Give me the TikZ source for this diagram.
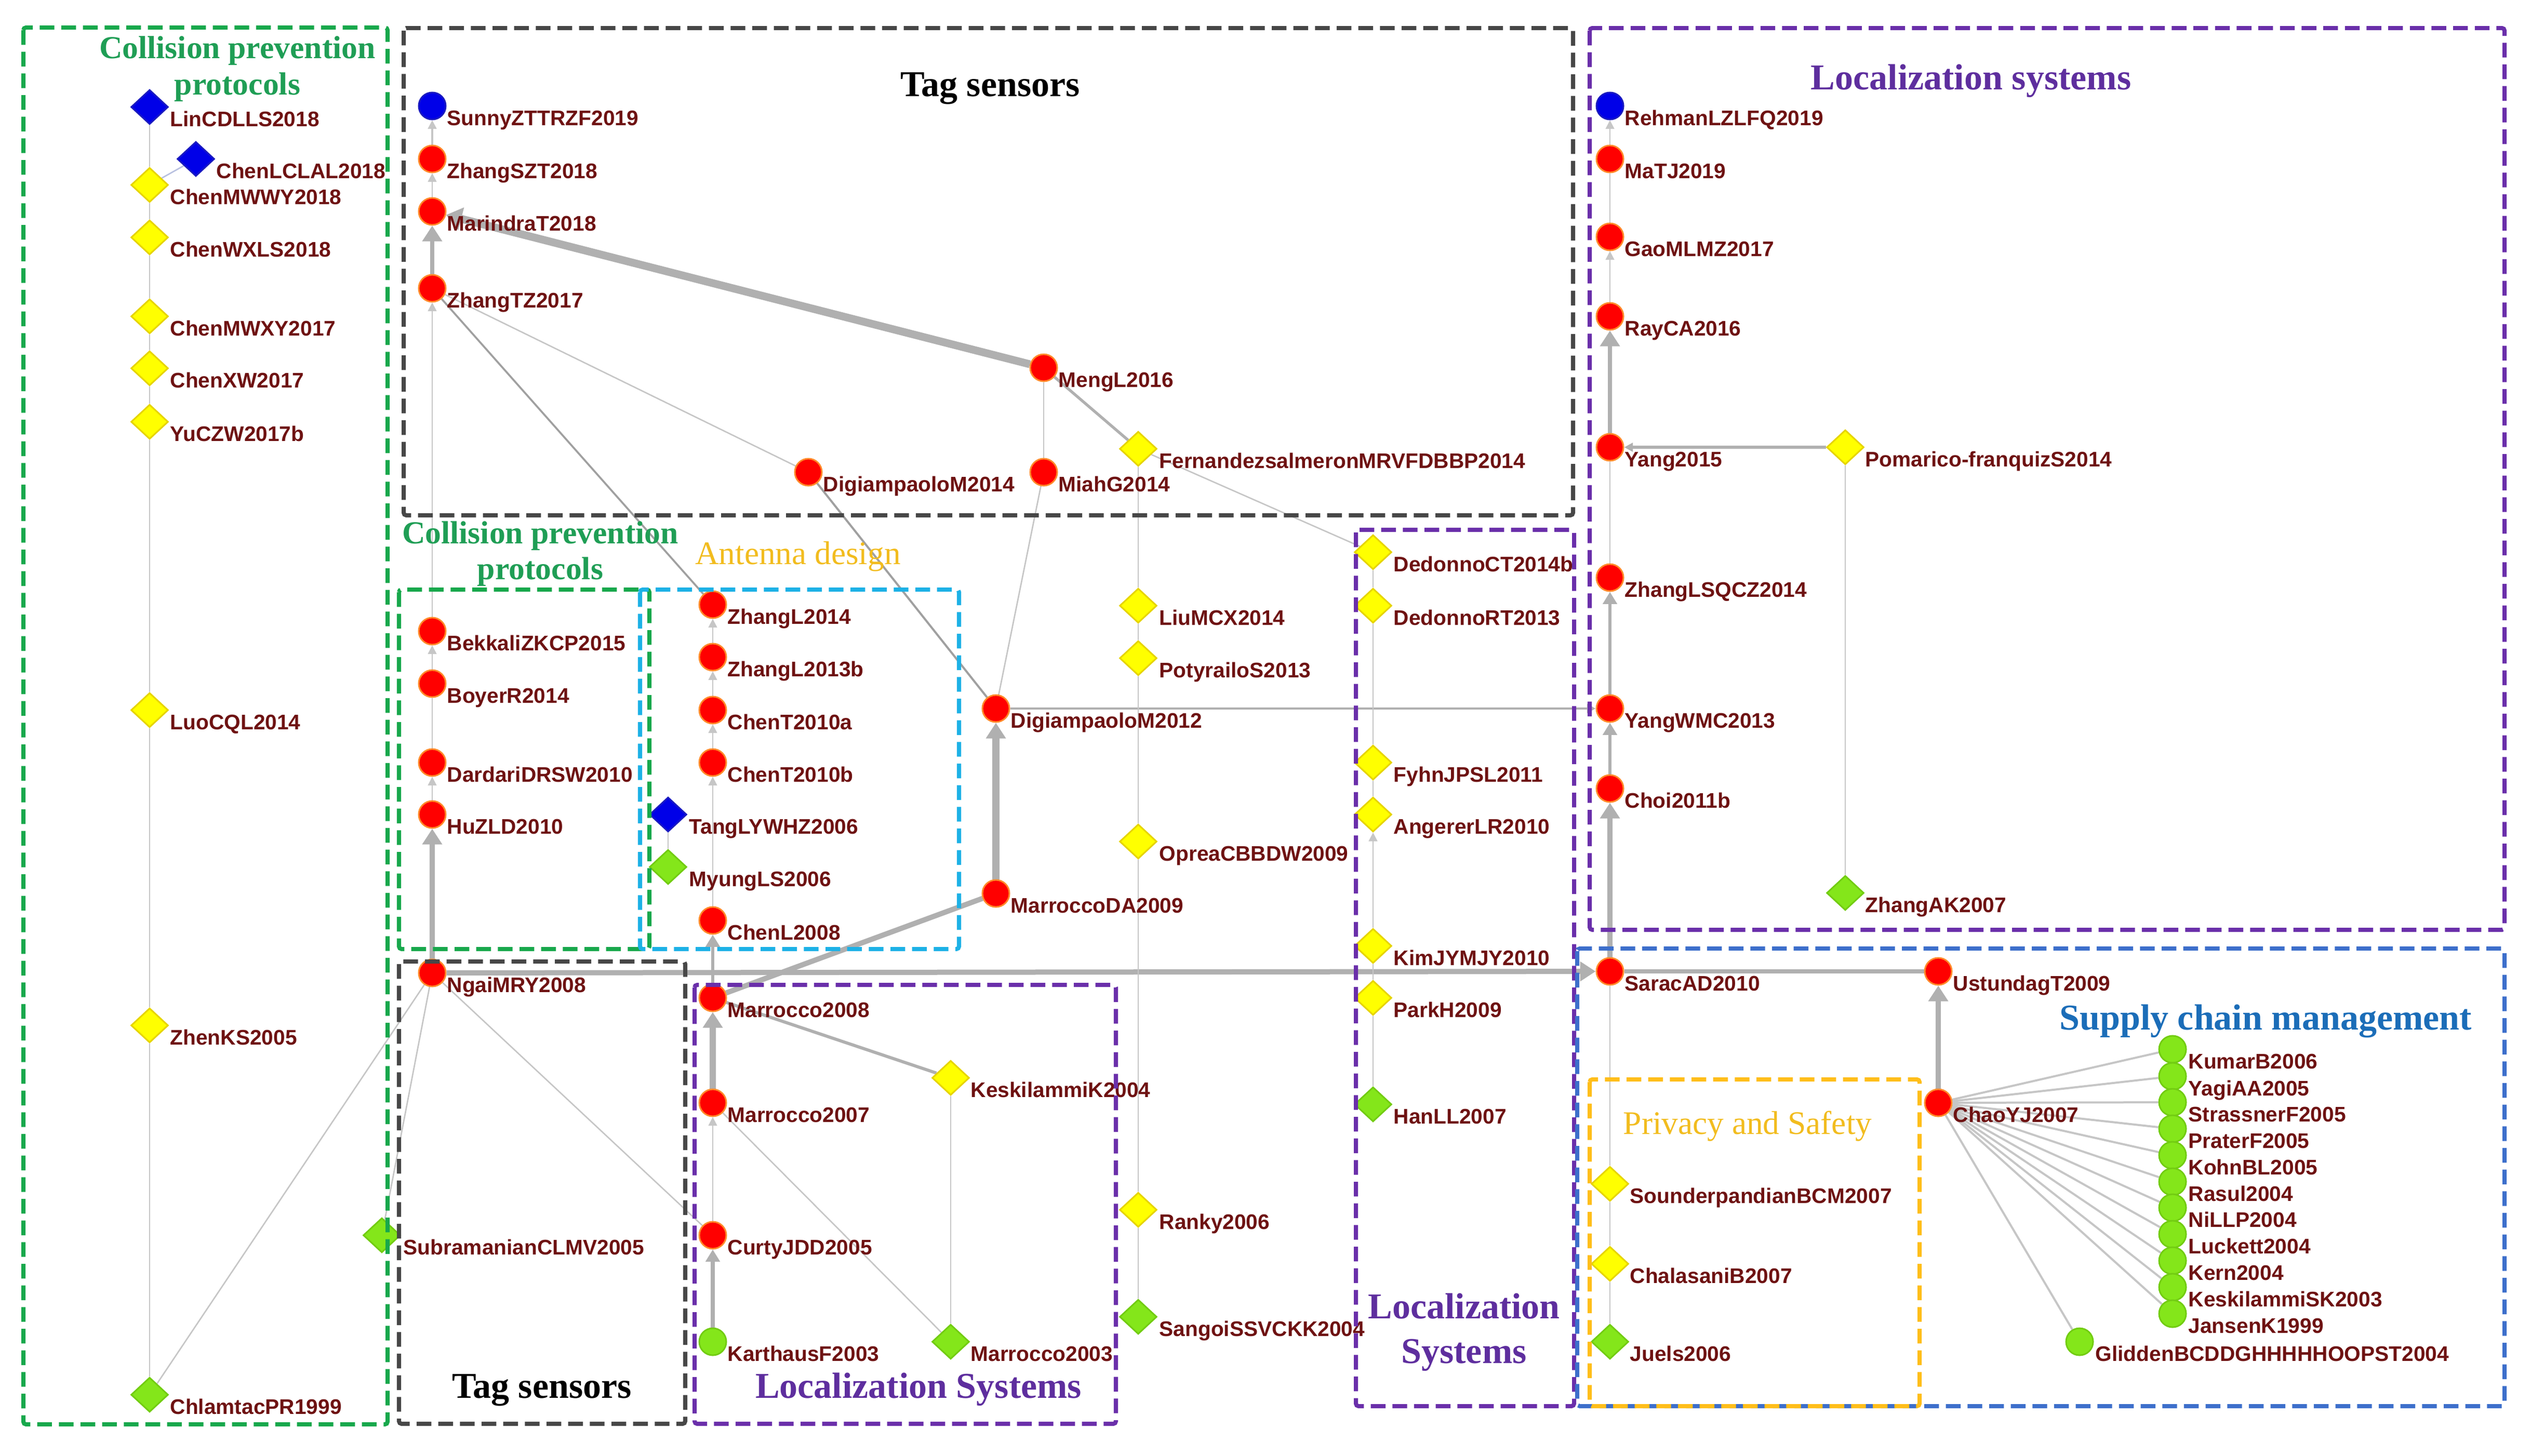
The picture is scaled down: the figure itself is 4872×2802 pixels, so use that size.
\documentclass[tikz,border=0pt]{standalone}
\usepackage{fontspec}
\setmainfont{Liberation Serif}
\newfontfamily\lblfam{Liberation Sans}
\usetikzlibrary{shapes.geometric,arrows.meta,calc}
\pgfdeclarelayer{bg}\pgfdeclarelayer{fg}
\pgfsetlayers{bg,main,fg}
\definecolor{nred}{HTML}{FF0000}
\definecolor{nredo}{HTML}{FF8A2A}
\definecolor{nblue}{HTML}{0000E8}
\definecolor{nblueo}{HTML}{1A1AC0}
\definecolor{nyellow}{HTML}{FFFF00}
\definecolor{nyellowo}{HTML}{E6D400}
\definecolor{ngreen}{HTML}{84E61A}
\definecolor{ngreeno}{HTML}{72CC12}
\definecolor{lblc}{HTML}{6E1212}
\definecolor{ethin}{HTML}{C6C6C6}
\definecolor{emed}{HTML}{B0B0B0}
\definecolor{edark}{HTML}{A0A0A0}
\definecolor{ebl}{HTML}{B8C0E0}
\definecolor{cgreen}{HTML}{18A84C}
\definecolor{cgray}{HTML}{474747}
\definecolor{cpurple}{HTML}{6A2FAA}
\definecolor{ccyan}{HTML}{1DB1E6}
\definecolor{cblue}{HTML}{3D6FCB}
\definecolor{cgold}{HTML}{FFBE1A}
\definecolor{tgreen}{HTML}{1F9E55}
\definecolor{tpurple}{HTML}{5E2E9E}
\definecolor{tgold}{HTML}{F2BC1E}
\definecolor{tblue}{HTML}{1B6DB8}
\newcommand{\mkn}[5]{\node[#1] (#2) at (#3) {}; \node[lbl] (#2-l) at ($(#2)+(#4,37)$) {#5};}
\begin{document}
\begin{tikzpicture}[x=0.3pt,y=-0.3pt,
  rc/.style={circle,fill=nred,draw=nredo,line width=0.9pt,minimum size=15.6pt,inner sep=0pt},
  bc/.style={rc,fill=nblue,draw=nblueo},
  gc/.style={rc,fill=ngreen,draw=ngreeno},
  yd/.style={diamond,fill=nyellow,draw=nyellowo,line width=0.9pt,minimum width=21.5pt,minimum height=20pt,inner sep=0pt},
  bd/.style={yd,fill=nblue,draw=nblueo},
  gd/.style={yd,fill=ngreen,draw=ngreeno},
  lbl/.style={font=\lblfam\bfseries\fontsize{12.2}{13}\selectfont,text=lblc,inner sep=0pt,anchor=base west},
  ln/.style={draw=ethin,line width=#1}, ln/.default=0.8pt,
  lm/.style={draw=emed,line width=#1}, lm/.default=1.6pt,
  sa/.style={-{Triangle[length=5pt,width=5pt]}},
  ma/.style={-{Triangle[length=7pt,width=8pt]}},
  la/.style={-{Triangle[length=9pt,width=11pt]}},
  box/.style={line width=2.4pt,dash pattern=on 8.5pt off 4pt,rounded corners=1.5pt},
  ttl/.style={font=\bfseries\fontsize{18.5}{20}\selectfont,inner sep=0pt,anchor=base},
  ttlL/.style={font=\bfseries\fontsize{21}{22}\selectfont,inner sep=0pt,anchor=base},
  ttlR/.style={font=\fontsize{19}{20}\selectfont,inner sep=0pt,anchor=base}]
\useasboundingbox (0,0) rectangle (4872,2802);
\begin{pgfonlayer}{bg}
\fill[white] (0,0) rectangle (4872,2802);
\end{pgfonlayer}
% left column
\mkn{bd}{lin}{288,206}{39}{LinCDLLS2018}
\mkn{bd}{chenlclal}{377,306}{39}{ChenLCLAL2018}
\mkn{yd}{chenmwwy}{288,356}{39}{ChenMWWY2018}
\mkn{yd}{chenwxls}{288,457}{39}{ChenWXLS2018}
\mkn{yd}{chenmwxy}{288,609}{39}{ChenMWXY2017}
\mkn{yd}{chenxw}{288,709}{39}{ChenXW2017}
\mkn{yd}{yuczw}{288,812}{39}{YuCZW2017b}
\mkn{yd}{luocql}{288,1367}{39}{LuoCQL2014}
\mkn{yd}{zhenks}{288,1974}{39}{ZhenKS2005}
\mkn{gd}{chlamtac}{288,2685}{39}{ChlamtacPR1999}
% column 832
\mkn{bc}{sunny}{832,204}{28}{SunnyZTTRZF2019}
\mkn{rc}{zhangszt}{832,306}{28}{ZhangSZT2018}
\mkn{rc}{marindra}{832,407}{28}{MarindraT2018}
\mkn{rc}{zhangtz}{832,555}{28}{ZhangTZ2017}
\mkn{rc}{bekkali}{832,1215}{28}{BekkaliZKCP2015}
\mkn{rc}{boyer}{832,1316}{28}{BoyerR2014}
\mkn{rc}{dardari}{832,1468}{28}{DardariDRSW2010}
\mkn{rc}{huzld}{832,1568}{28}{HuZLD2010}
\mkn{rc}{ngai}{832,1873}{28}{NgaiMRY2008}
\mkn{gd}{subra}{735,2378}{41}{SubramanianCLMV2005}
% antenna / bottom
\mkn{rc}{zl14}{1372,1164}{28}{ZhangL2014}
\mkn{rc}{zl13}{1372,1265}{28}{ZhangL2013b}
\mkn{rc}{ct10a}{1372,1367}{28}{ChenT2010a}
\mkn{rc}{ct10b}{1372,1468}{28}{ChenT2010b}
\mkn{bd}{tang}{1286,1568}{40}{TangLYWHZ2006}
\mkn{gd}{myung}{1286,1669}{40}{MyungLS2006}
\mkn{rc}{chenl}{1372,1772}{28}{ChenL2008}
\mkn{rc}{m08}{1372,1921}{28}{Marrocco2008}
\mkn{rc}{m07}{1372,2123}{28}{Marrocco2007}
\mkn{rc}{curty}{1372,2378}{28}{CurtyJDD2005}
\mkn{gc}{karth}{1372,2583}{28}{KarthausF2003}
\mkn{yd}{keskk}{1830,2075}{38}{KeskilammiK2004}
\mkn{gd}{m03}{1830,2583}{38}{Marrocco2003}
% middle
\mkn{rc}{dg14}{1556,909}{28}{DigiampaoloM2014}
\mkn{rc}{meng}{2009,708}{28}{MengL2016}
\mkn{rc}{miah}{2009,909}{28}{MiahG2014}
\mkn{rc}{dg12}{1917,1364}{28}{DigiampaoloM2012}
\mkn{rc}{mda}{1917,1720}{28}{MarroccoDA2009}
\mkn{yd}{fern}{2191,864}{40}{FernandezsalmeronMRVFDBBP2014}
\mkn{yd}{liu}{2191,1166}{40}{LiuMCX2014}
\mkn{yd}{poty}{2191,1267}{40}{PotyrailoS2013}
\mkn{yd}{oprea}{2191,1620}{40}{OpreaCBBDW2009}
\mkn{yd}{ranky}{2191,2329}{40}{Ranky2006}
\mkn{gd}{sangoi}{2191,2535}{40}{SangoiSSVCKK2004}
\mkn{yd}{dct}{2643,1063}{39}{DedonnoCT2014b}
\mkn{yd}{drt}{2643,1166}{39}{DedonnoRT2013}
\mkn{yd}{fyhn}{2643,1468}{39}{FyhnJPSL2011}
\mkn{yd}{ang}{2643,1568}{39}{AngererLR2010}
\mkn{yd}{kim}{2643,1821}{39}{KimJYMJY2010}
\mkn{yd}{park}{2643,1921}{39}{ParkH2009}
\mkn{gd}{han}{2643,2126}{39}{HanLL2007}
% right
\mkn{bc}{rehman}{3099,204}{28}{RehmanLZLFQ2019}
\mkn{rc}{matj}{3099,306}{28}{MaTJ2019}
\mkn{rc}{gao}{3099,456}{28}{GaoMLMZ2017}
\mkn{rc}{ray}{3099,609}{28}{RayCA2016}
\mkn{rc}{yang15}{3099,861}{28}{Yang2015}
\mkn{yd}{poma}{3552,861}{38}{Pomarico-franquizS2014}
\mkn{rc}{zlsq}{3099,1112}{28}{ZhangLSQCZ2014}
\mkn{rc}{ywmc}{3099,1364}{28}{YangWMC2013}
\mkn{rc}{choi}{3099,1518}{28}{Choi2011b}
\mkn{gd}{zak}{3552,1719}{38}{ZhangAK2007}
\mkn{rc}{sarac}{3099,1870}{28}{SaracAD2010}
\mkn{rc}{ust}{3731,1870}{28}{UstundagT2009}
\mkn{rc}{chao}{3731,2123}{28}{ChaoYJ2007}
\mkn{yd}{sound}{3099,2279}{38}{SounderpandianBCM2007}
\mkn{yd}{chala}{3099,2433}{38}{ChalasaniB2007}
\mkn{gd}{juels}{3099,2583}{38}{Juels2006}
\mkn{gc}{kumar}{4182,2020}{30}{KumarB2006}
\mkn{gc}{yagi}{4182,2072}{30}{YagiAA2005}
\mkn{gc}{stras}{4182,2122}{30}{StrassnerF2005}
\mkn{gc}{prater}{4182,2173}{30}{PraterF2005}
\mkn{gc}{kohn}{4182,2224}{30}{KohnBL2005}
\mkn{gc}{rasul}{4182,2275}{30}{Rasul2004}
\mkn{gc}{nillp}{4182,2325}{30}{NiLLP2004}
\mkn{gc}{luck}{4182,2376}{30}{Luckett2004}
\mkn{gc}{kern}{4182,2427}{30}{Kern2004}
\mkn{gc}{kesk}{4182,2478}{30}{KeskilammiSK2003}
\mkn{gc}{jansen}{4182,2529}{30}{JansenK1999}
\mkn{gc}{glid}{4003,2583}{30}{GliddenBCDDGHHHHHOOPST2004}
% edges
\begin{pgfonlayer}{bg}
\draw[ln] (lin) -- (chenmwwy);
\draw[ln,draw=ebl] (chenlclal) -- (chenmwwy);
\draw[ln] (chenmwwy) -- (chenwxls);
\draw[ln] (chenwxls) -- (chenmwxy);
\draw[ln] (chenmwxy) -- (chenxw);
\draw[ln] (chenxw) -- (yuczw);
\draw[ln] (yuczw) -- (luocql);
\draw[ln] (luocql) -- (zhenks);
\draw[ln] (zhenks) -- (chlamtac);
\draw[ln] (chlamtac) -- (ngai);
\draw[ln] (subra) -- (ngai);
\draw[ln] (curty) -- (ngai);
\draw[ln=1pt,sa] (zhangszt) -- (sunny);
\draw[ln,sa] (marindra) -- (zhangszt);
\draw[lm=2.6pt,la] (zhangtz) -- (marindra);
\draw[lm=4.5pt,-{Triangle[length=9pt,width=13pt]}] (meng) -- (marindra);
\draw[ln] (zhangtz) -- (dg14);
\draw[lm=1.1pt,draw=edark] (zhangtz) -- (zl14);
\draw[ln,sa] (bekkali) -- (zhangtz);
\draw[lm=1.2pt,draw=edark] (dg12) -- (dg14);
\draw[ln] (dg12) -- (miah);
\draw[ln] (miah) -- (meng);
\draw[lm=1.6pt] (fern) -- (meng);
\draw[ln] (dct) -- (fern);
\draw[ln] (liu) -- (fern);
\draw[ln,sa] (boyer) -- (bekkali);
\draw[ln] (dardari) -- (boyer);
\draw[ln,sa] (huzld) -- (dardari);
\draw[lm=3.2pt,la] (ngai) -- (huzld);
\draw[ln,sa] (zl13) -- (zl14);
\draw[ln,sa] (ct10a) -- (zl13);
\draw[ln,sa] (ct10b) -- (ct10a);
\draw[ln,sa] (chenl) -- (ct10b);
\draw[ln] (tang) -- (myung);
\draw[lm=2pt,ma] (m08) -- (chenl);
\draw[lm=4.2pt,la] (mda) -- (dg12);
\draw[lm=3pt] (m08) -- (mda);
\draw[lm=1.4pt,sa] (dg12) -- (ywmc);
\draw[lm=3pt,la] (ngai) -- (sarac);
\draw[lm=3.8pt,la] (m07) -- (m08);
\draw[ln,sa] (curty) -- (m07);
\draw[lm=2.4pt,ma] (karth) -- (curty);
\draw[lm=1.8pt] (m08) -- (keskk);
\draw[ln] (keskk) -- (m03);
\draw[ln] (m07) -- (m03);
\draw[ln] (poty) -- (liu);
\draw[ln] (oprea) -- (poty);
\draw[ln] (ranky) -- (oprea);
\draw[ln] (sangoi) -- (ranky);
\draw[ln] (drt) -- (dct);
\draw[ln] (fyhn) -- (drt);
\draw[ln] (ang) -- (fyhn);
\draw[ln,sa] (kim) -- (ang);
\draw[ln] (park) -- (kim);
\draw[ln] (han) -- (park);
\draw[ln,sa] (matj) -- (rehman);
\draw[ln] (gao) -- (matj);
\draw[ln,sa] (ray) -- (gao);
\draw[lm=2.4pt,la] (yang15) -- (ray);
\draw[lm=1.6pt,sa] (poma) -- (yang15);
\draw[ln] (zak) -- (poma);
\draw[ln] (zlsq) -- (yang15);
\draw[lm=2pt,ma] (ywmc) -- (zlsq);
\draw[lm=2pt,ma] (choi) -- (ywmc);
\draw[lm=3.2pt,la] (sarac) -- (choi);
\draw[lm=2.5pt] (sarac) -- (ust);
\draw[lm=2.8pt,la] (chao) -- (ust);
\draw[ln] (sound) -- (sarac);
\draw[ln] (chala) -- (sound);
\draw[ln] (juels) -- (chala);
\foreach \t in {kumar,yagi,stras,prater,kohn,rasul,nillp,luck,kern,kesk,jansen,glid}
  \draw[ln=1.2pt] (chao) -- (\t);
\end{pgfonlayer}
% boxes and titles
\begin{pgfonlayer}{fg}
\draw[box,draw=cgreen] (45,53) rectangle (746,2742);
\draw[box,draw=cgray] (777,54) rectangle (3028,992);
\draw[box,draw=cpurple] (3060,54) rectangle (4821,1790);
\draw[box,draw=cgreen] (768,1135) rectangle (1250,1827);
\draw[box,draw=ccyan] (1232,1135) rectangle (1846,1827);
\draw[box,draw=cgray] (768,1851) rectangle (1319,2741);
\draw[box,draw=cpurple] (1337,1896) rectangle (2148,2741);
\draw[box,draw=cpurple] (2610,1020) rectangle (3030,2707);
\draw[box,draw=cblue] (3036,1826) rectangle (4821,2707);
\draw[box,draw=cgold] (3060,2078) rectangle (3695,2707);
\node[ttl,text=tgreen] (t1a) at (457,112) {Collision prevention};
\node[ttl,text=tgreen] (t1b) at (457,182) {protocols};
\node[ttl,text=tgreen] (t2a) at (1040,1046) {Collision prevention};
\node[ttl,text=tgreen] (t2b) at (1040,1115) {protocols};
\node[ttlR,text=tgold] (t3) at (1536,1086) {Antenna design};
\node[ttlL,text=black] (t4) at (1906,185) {Tag sensors};
\node[ttlL,text=tpurple] (t5) at (3794,172) {Localization systems};
\node[ttlL,text=black] (t6) at (1043,2691) {Tag sensors};
\node[ttlL,text=tpurple] (t7) at (1768,2691) {Localization Systems};
\node[ttlL,text=tpurple] (t8a) at (2818,2538) {Localization};
\node[ttlL,text=tpurple] (t8b) at (2818,2624) {Systems};
\node[ttlL,text=tblue] (t9) at (4361,1982) {Supply chain management};
\node[ttlR,text=tgold] (t10) at (3364,2183) {Privacy and Safety};
\end{pgfonlayer}
\end{tikzpicture}
\end{document}
